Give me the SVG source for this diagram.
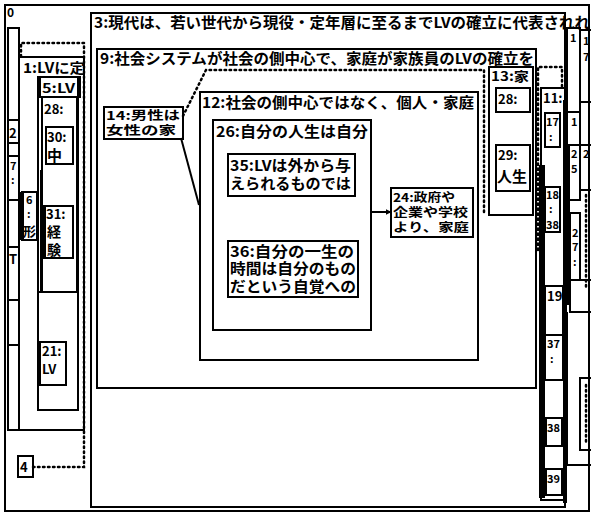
<svg xmlns="http://www.w3.org/2000/svg" width="591" height="517" viewBox="0 0 591 517">
<defs>
<style>
.b{fill:none;stroke:#000;stroke-width:2}
.f{fill:#000;stroke:none}
.d{fill:none;stroke:#000;stroke-width:2.5;stroke-dasharray:1.5 3.5;stroke-linecap:round}
.t{font-family:"Noto Sans CJK JP","Noto Sans CJK SC",sans-serif;font-weight:bold;fill:#000}
.s11{font-size:11px}
.s12{font-size:12px}
.s13{font-size:13px}
.s14{font-size:14px}
.s15{font-size:15px}
</style>
<marker id="ah" viewBox="0 0 10 10" refX="9" refY="5" markerWidth="6" markerHeight="6" orient="auto" markerUnits="userSpaceOnUse"><path d="M0,0 L10,5 L0,10 z" fill="#000"/></marker>
</defs>
<rect width="591" height="517" fill="#fff"/>

<g id="n0">
<rect class="b" x="5" y="5" width="584" height="506"/>
<text class="t" x="7" y="17" font-size="12">0</text>
</g>

<g id="leftcol">
<rect class="b" x="8" y="28" width="11" height="402"/>
<rect class="b" x="8" y="120" width="11" height="23"/>
<rect class="b" x="8" y="156" width="11" height="44"/>
<rect class="b" x="8" y="200" width="11" height="47"/>
<rect class="b" x="8" y="247" width="11" height="53"/>
<rect class="b" x="8" y="300" width="11" height="45"/>
<text class="t s13" x="9" y="138">2</text>
<text class="t s11" x="10" y="170">7</text>
<text class="t s11" x="11" y="184">:</text>
<text class="t s13" x="9" y="264">T</text>
</g>

<g id="n1">
<rect class="b" x="19" y="57" width="65" height="373"/>
<text class="t s14" x="23" y="73" textLength="62" lengthAdjust="spacingAndGlyphs">1:LVに定</text>
</g>

<g id="n6">
<rect class="b" x="22" y="192" width="15" height="48"/>
<rect class="f" x="20" y="192" width="4" height="48"/>
<text class="t s11" x="26" y="204">6</text>
<text class="t s11" x="27" y="218">:</text>
<text class="t s13" x="23" y="236">形</text>
</g>

<g id="n5">
<rect class="b" x="38" y="77" width="40" height="333"/>
<rect class="b" x="40" y="77" width="40" height="20"/>
<text class="t s13" x="42" y="93" textLength="33" lengthAdjust="spacingAndGlyphs">5:LV</text>
</g>

<g id="n28a">
<rect class="b" x="42" y="97" width="35" height="195"/>
<rect class="f" x="40" y="170" width="3" height="122"/>
<text class="t s13" x="44" y="114">28:</text>
</g>

<g id="n30">
<rect class="b" x="46" y="127" width="27" height="37"/>
<text class="t s13" x="47" y="142">30:</text>
<text class="t s15" x="47" y="161">中</text>
</g>

<g id="n31">
<rect class="b" x="43" y="206" width="30" height="52"/>
<rect class="f" x="42" y="206" width="4" height="52"/>
<text class="t s13" x="46" y="219">31:</text>
<text class="t s14" x="47" y="237">経</text>
<text class="t s14" x="47" y="255">験</text>
</g>

<g id="n21box">
<rect class="b" x="38" y="292" width="40" height="118"/>
</g>

<g id="n21">
<rect class="b" x="40" y="342" width="26" height="43"/>
<text class="t s13" x="42" y="356">21:</text>
<text class="t s13" x="42" y="374">LV</text>
</g>

<g id="n4">
<rect class="b" x="18" y="456" width="15" height="21"/>
<text class="t s13" x="20" y="472">4</text>
</g>

<g id="n3">
<rect class="b" x="91" y="13" width="474" height="494"/>
<text class="t s15" x="94" y="28" textLength="496" lengthAdjust="spacingAndGlyphs">3:現代は、若い世代から現役・定年層に至るまでLVの確立に代表されれ</text>
</g>

<g id="n9">
<rect class="b" x="97" y="49" width="439" height="339"/>
<text class="t s15" x="100" y="64" textLength="434" lengthAdjust="spacingAndGlyphs">9:社会システムが社会の側中心で、家庭が家族員のLVの確立を</text>
</g>

<g id="n14">
<rect class="b" x="104" y="107" width="79" height="32"/>
<text class="t s12" x="106" y="120" textLength="74" lengthAdjust="spacingAndGlyphs">14:男性は</text>
<text class="t s12" x="106" y="135" textLength="70" lengthAdjust="spacingAndGlyphs">女性の家</text>
</g>

<g id="n12">
<rect class="b" x="200" y="92" width="278" height="268"/>
<text class="t s15" x="202" y="108" textLength="272" lengthAdjust="spacingAndGlyphs">12:社会の側中心ではなく、個人・家庭</text>
</g>

<g id="n26">
<rect class="b" x="213" y="120" width="158" height="210"/>
<text class="t s15" x="216" y="137" textLength="152" lengthAdjust="spacingAndGlyphs">26:自分の人生は自分</text>
</g>

<g id="n35">
<rect class="b" x="228" y="154" width="127" height="42"/>
<text class="t s15" x="230" y="171" textLength="121" lengthAdjust="spacingAndGlyphs">35:LVは外から与</text>
<text class="t s15" x="230" y="189" textLength="121" lengthAdjust="spacingAndGlyphs">えられるものでは</text>
</g>

<g id="n36">
<rect class="b" x="228" y="241" width="130" height="56"/>
<text class="t s15" x="230" y="257" textLength="124" lengthAdjust="spacingAndGlyphs">36:自分の一生の</text>
<text class="t s15" x="230" y="274" textLength="126" lengthAdjust="spacingAndGlyphs">時間は自分のもの</text>
<text class="t s15" x="230" y="292" textLength="126" lengthAdjust="spacingAndGlyphs">だという自覚への</text>
</g>

<g id="n24">
<rect class="b" x="391" y="188" width="82" height="49"/>
<text class="t s12" x="393" y="202" textLength="62" lengthAdjust="spacingAndGlyphs">24:政府や</text>
<text class="t s12" x="393" y="217" textLength="75" lengthAdjust="spacingAndGlyphs">企業や学校</text>
<text class="t s12" x="393" y="232" textLength="76" lengthAdjust="spacingAndGlyphs">より、家庭</text>
</g>

<g id="n13">
<rect class="b" x="489" y="67" width="44" height="148"/>
<text class="t s13" x="491" y="81" textLength="38" lengthAdjust="spacingAndGlyphs">13:家</text>
</g>

<g id="n28b">
<rect class="b" x="496" y="88" width="34" height="24"/>
<text class="t s13" x="498" y="104">28:</text>
</g>

<g id="n29">
<rect class="b" x="496" y="145" width="34" height="46"/>
<text class="t s13" x="498" y="160">29:</text>
<text class="t s15" x="497" y="182">人生</text>
</g>

<g id="n11">
<rect class="b" x="541" y="88" width="24" height="412"/>
<rect class="f" x="539" y="165" width="6" height="333"/>
<rect class="f" x="563" y="100" width="4" height="403"/>
<text class="t s13" x="543" y="103">11:</text>
</g>

<g id="n17">
<rect class="b" x="545" y="113" width="15" height="34"/>
<text class="t s11" x="546" y="126">17</text>
<text class="t s11" x="549" y="141">:</text>
</g>

<g id="n18">
<rect class="b" x="545" y="187" width="15" height="45"/>
<text class="t s11" x="546" y="199">18</text>
<text class="t s11" x="549" y="213">:</text>
<text class="t s11" x="546" y="229">38</text>
</g>

<g id="n19">
<rect class="b" x="545" y="286" width="18" height="49"/>
<text class="t s13" x="547" y="301">19</text>
</g>

<g id="n37">
<rect class="b" x="545" y="335" width="18" height="45"/>
<text class="t s11" x="547" y="348">37</text>
<text class="t s11" x="550" y="363">:</text>
</g>

<g id="n38">
<rect class="b" x="546" y="418" width="16" height="28"/>
<text class="t s11" x="547" y="432">38</text>
</g>

<g id="n39">
<rect class="b" x="546" y="469" width="16" height="26"/>
<text class="t s11" x="547" y="483">39</text>
</g>

<g id="rightcol">
<rect class="b" x="567" y="28" width="13" height="84"/>
<text class="t s11" x="570" y="42">1</text>
<rect class="b" x="580" y="30" width="12" height="72"/>
<text class="t s11" x="583" y="45">1</text>
<text class="t s11" x="583" y="61">7</text>
<rect class="b" x="567" y="112" width="13" height="33"/>
<text class="t s11" x="571" y="126">1</text>
<rect class="b" x="567" y="145" width="13" height="55"/>
<rect class="f" x="566" y="145" width="4" height="160"/>
<text class="t s11" x="571" y="158">2</text>
<text class="t s11" x="571" y="173">5</text>
<rect class="b" x="580" y="145" width="12" height="45"/>
<text class="t s11" x="583" y="158">2</text>
<rect class="b" x="570" y="213" width="10" height="67"/>
<text class="t s11" x="572" y="237">2</text>
<text class="t s11" x="572" y="251">7</text>
<text class="t s11" x="573" y="266">:</text>
<rect class="b" x="570" y="280" width="22" height="32"/>
<rect class="b" x="580" y="378" width="12" height="72"/>
<path class="b" d="M567,312 V465 H591"/>
</g>

<g id="connectors">
<path class="d" d="M33,467 H84 V43 H21 V57"/>
<path class="d" d="M183,116 L206,70 H484 V215"/>
<path class="b" d="M181,138 L199,205"/>
<path class="b" d="M371,212 H391" marker-end="url(#ah)"/>
<path class="d" d="M538,250 V67 H562 V88"/>
<path class="d" d="M586,195 V290"/>
<path class="d" d="M586,385 V445"/>
</g>
</svg>
